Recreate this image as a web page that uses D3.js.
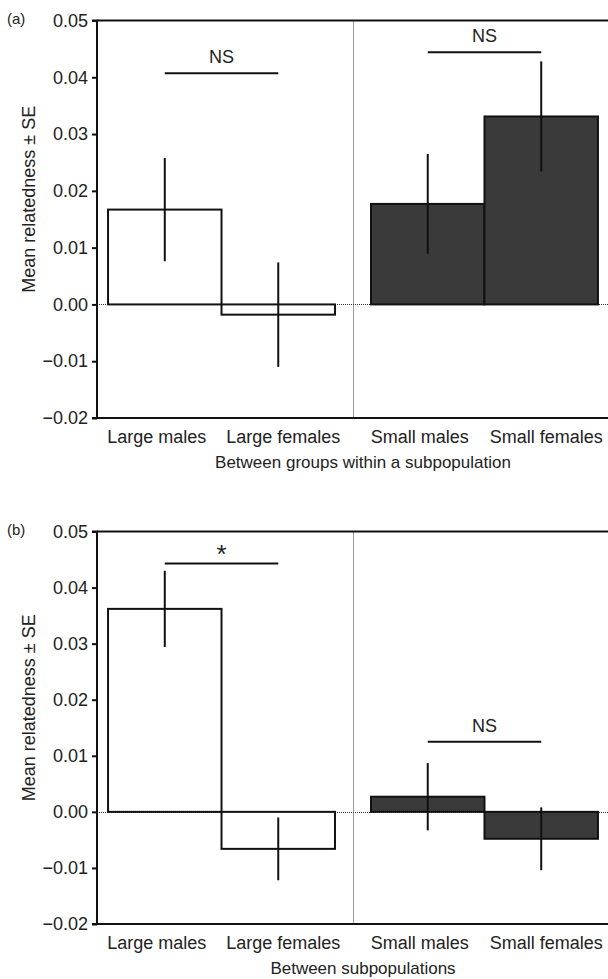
<!DOCTYPE html>
<html>
<head>
<meta charset="utf-8">
<script src="https://cdn.jsdelivr.net/npm/d3@7"></script>
<style>
  body { margin: 0; background: #fff; }
  text { font-family: "Liberation Sans", Arial, sans-serif; fill: #222; }
</style>
</head>
<body>
<div class="container"></div>
<script>
const WIDTH = 608;
const HEIGHT = 979;

var groups = ['Large', 'Small'];
var sexes = ['males', 'females'];
var yTicks = [-0.02, -0.01, 0, 0.01, 0.02, 0.03, 0.04, 0.05];

// (a) between groups within a subpopulation
var withinMeans = [0.0167, -0.0018, 0.0177, 0.0331];
var withinSE = [0.0091, 0.0092, 0.0088, 0.0097];
var withinSig = [
    { from: 0, to: 1, label: 'NS', y: 0.0407 },
    { from: 2, to: 3, label: 'NS', y: 0.0444 }
];

// (b) between subpopulations
var betweenMeans = [0.0362, -0.0066, 0.0027, -0.0048];
var betweenSE = [0.0068, 0.0056, 0.0060, 0.0056];
var betweenSig = [
    { from: 0, to: 1, label: '*', y: 0.0443 },
    { from: 2, to: 3, label: 'NS', y: 0.0125 }
];

var categories = [];
groups.forEach(g => sexes.forEach(s => categories.push({ group: g, sex: s, label: g + ' ' + s })));

var translate = function(x, y) {
    return `translate(${x},${y})`;
};

var svg = d3.select('.container').append('svg')
    .attr('width', WIDTH)
    .attr('height', HEIGHT);

let outer = d3.scaleBand()
    .domain(groups)
    .range([97, 609])
    .paddingInner(0.137)
    .paddingOuter(0.042);

let inner = d3.scaleBand()
    .domain(sexes)
    .range([0, outer.bandwidth()]);

var barX = (i) => outer(categories[i].group) + inner(categories[i].sex);
var barMid = (i) => barX(i) + inner.bandwidth() / 2;

var drawPanel = function(opt) {
    let yScale = d3.scaleLinear()
        .domain([-0.02, 0.05])
        .range([opt.bottom, opt.top]);

    var g = svg.append('g');
    var x0 = outer.range()[0], x1 = outer.range()[1];

    // dotted zero line and divider
    var zeroY = Math.round(yScale(0)) + 0.5;
    g.append('line')
        .attr('x1', x0).attr('x2', x1)
        .attr('y1', zeroY).attr('y2', zeroY)
        .attr('stroke', '#333').attr('stroke-width', 1)
        .attr('stroke-dasharray', '1,1');
    var divX = Math.round(outer('Small') - outer.step() * outer.paddingInner() / 2) + 0.5;
    g.append('line')
        .attr('x1', divX).attr('x2', divX)
        .attr('y1', opt.top).attr('y2', opt.bottom)
        .attr('stroke', '#333').attr('stroke-width', 1)
        .attr('stroke-dasharray', '1,1');

    // bars
    g.selectAll('rect.bar')
        .data(opt.means)
        .enter().append('rect')
        .classed('bar', true)
        .attr('x', (d, i) => barX(i))
        .attr('width', inner.bandwidth())
        .attr('y', d => yScale(Math.max(0, d)))
        .attr('height', d => Math.abs(yScale(d) - yScale(0)))
        .attr('fill', (d, i) => categories[i].group === 'Large' ? '#fff' : '#3a3a3a')
        .attr('stroke', '#111')
        .attr('stroke-width', 2);

    // error bars
    g.selectAll('line.err')
        .data(opt.means)
        .enter().append('line')
        .classed('err', true)
        .attr('x1', (d, i) => barMid(i)).attr('x2', (d, i) => barMid(i))
        .attr('y1', (d, i) => yScale(d + opt.se[i]))
        .attr('y2', (d, i) => yScale(d - opt.se[i]))
        .attr('stroke', '#111')
        .attr('stroke-width', 2);

    // frame: top line
    g.append('line')
        .attr('x1', x0).attr('x2', x1)
        .attr('y1', opt.top).attr('y2', opt.top)
        .attr('stroke', '#111').attr('stroke-width', 2);

    let yAxis = d3.axisLeft(yScale)
        .tickValues(yTicks)
        .tickSize(5)
        .tickPadding(4)
        .tickFormat(d => d3.format('.2f')(d).replace('-', '\u2212'));
    var ax = svg.append('g')
        .attr('transform', translate(x0, 0))
        .call(yAxis);
    ax.select('.domain').attr('stroke', '#111').attr('stroke-width', 2)
        .attr('d', `M-5,${opt.top}H0V${opt.bottom}`);
    ax.selectAll('.tick line').attr('stroke', '#111').attr('stroke-width', 2);
    ax.selectAll('.tick text').style('font-size', '18px').attr('fill', '#222');

    g.append('line')
        .attr('x1', x0 - 5).attr('x2', x1)
        .attr('y1', opt.bottom).attr('y2', opt.bottom)
        .attr('stroke', '#111').attr('stroke-width', 2);

    // significance lines
    opt.sig.forEach(s => {
        g.append('line')
            .attr('x1', barMid(s.from)).attr('x2', barMid(s.to))
            .attr('y1', yScale(s.y)).attr('y2', yScale(s.y))
            .attr('stroke', '#111').attr('stroke-width', 2);
        g.append('text')
            .attr('x', (barMid(s.from) + barMid(s.to)) / 2)
            .attr('y', yScale(s.y) - (s.label === '*' ? 0 : 10))
            .attr('text-anchor', 'middle')
            .style('font-size', s.label === '*' ? '26px' : '18px')
            .text(s.label);
    });

    // category labels
    g.selectAll('text.cat')
        .data(categories)
        .enter().append('text')
        .classed('cat', true)
        .attr('x', (d, i) => barMid(i) + (i % 2 === 0 ? -8 : 5))
        .attr('y', opt.bottom + 25)
        .attr('text-anchor', 'middle')
        .style('font-size', '18px')
        .text(d => d.label);

    g.append('text')
        .attr('x', (x0 + x1) / 2 + 10)
        .attr('y', opt.bottom + 50)
        .attr('text-anchor', 'middle')
        .style('font-size', '17px')
        .text(opt.title);

    g.append('text')
        .attr('transform', translate(35, (opt.top + opt.bottom) / 2 - 20) + ' rotate(-90)')
        .attr('text-anchor', 'middle')
        .style('font-size', '18px')
        .text('Mean relatedness \u00b1 SE');

    g.append('text')
        .attr('x', 7)
        .attr('y', opt.top + 3)
        .style('font-size', '15px')
        .text(opt.letter);
};

drawPanel({
    top: 20.5, bottom: 418,
    means: withinMeans, se: withinSE, sig: withinSig,
    letter: '(a)', title: 'Between groups within a subpopulation'
});

drawPanel({
    top: 531.5, bottom: 924,
    means: betweenMeans, se: betweenSE, sig: betweenSig,
    letter: '(b)', title: 'Between subpopulations'
});
</script>
</body>
</html>
